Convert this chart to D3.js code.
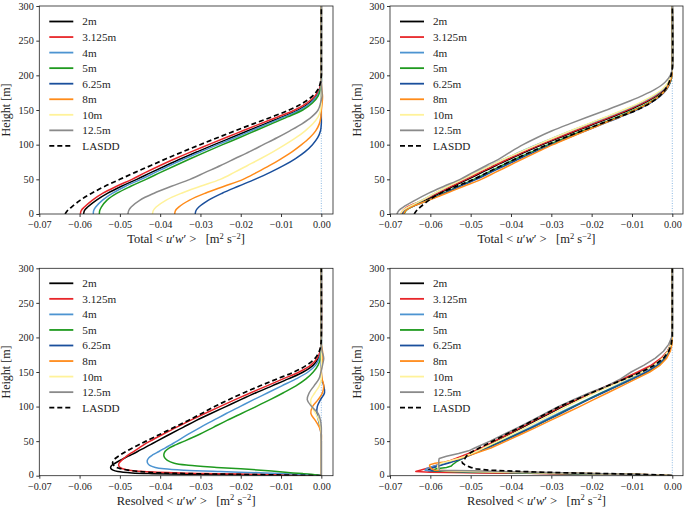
<!DOCTYPE html>
<html><head><meta charset="utf-8">
<script src="https://cdn.jsdelivr.net/npm/d3@7"></script>
<style>body{margin:0;background:#fff}svg{display:block}text{font-family:"Liberation Serif","DejaVu Serif",serif;white-space:pre}</style>
</head><body><svg id="c" width="685" height="508"></svg>
<script>
// ---------- data ----------
const seriesNames = ["2m","3.125m","4m","5m","6.25m","8m","10m","12.5m","LASDD"];
const seriesColors = ["#000000","#e8262a","#4d94d1","#1f9a1f","#1a4f9c","#ff8b1a","#fff29a","#8a8a8a","#000000"];
const xTickVals = [-0.07,-0.06,-0.05,-0.04,-0.03,-0.02,-0.01,0.00];
const yTickVals = [0,50,100,150,200,250,300];

// heights (m) for Total panels
const heightsTotal = [0,5,10,20,30,40,50,60,70,80,90,100,110,120,130,140,150,160,170,180,190,200,210,300];
// Total <u'w'>, left panel
const totalLeft = [
 [-0.0590,-0.0588,-0.0580,-0.0558,-0.0530,-0.0496,-0.0458,-0.0422,-0.0385,-0.0347,-0.0307,-0.0266,-0.0224,-0.0182,-0.0140,-0.0097,-0.0057,-0.0030,-0.0012,-0.0004,-0.0001,0,0,0],
 [-0.0598,-0.0596,-0.0588,-0.0568,-0.0542,-0.0508,-0.0470,-0.0436,-0.0400,-0.0362,-0.0322,-0.0280,-0.0238,-0.0195,-0.0152,-0.0108,-0.0066,-0.0036,-0.0016,-0.0005,-0.0001,0,0,0],
 [-0.0566,-0.0565,-0.0560,-0.0543,-0.0518,-0.0486,-0.0448,-0.0412,-0.0376,-0.0338,-0.0298,-0.0257,-0.0215,-0.0174,-0.0133,-0.0092,-0.0053,-0.0027,-0.0011,-0.0003,0,0,0,0],
 [-0.0551,-0.0550,-0.0546,-0.0532,-0.0507,-0.0473,-0.0435,-0.0399,-0.0362,-0.0324,-0.0285,-0.0245,-0.0204,-0.0164,-0.0124,-0.0084,-0.0046,-0.0022,-0.0008,-0.0002,0,0,0,0],
 [-0.0313,-0.0311,-0.0304,-0.0280,-0.0246,-0.0206,-0.0165,-0.0127,-0.0093,-0.0064,-0.0040,-0.0022,-0.0009,-0.0002,0,0,0,0,0,0,0,0,0,0],
 [-0.0364,-0.0362,-0.0354,-0.0327,-0.0288,-0.0241,-0.0194,-0.0160,-0.0128,-0.0099,-0.0072,-0.0049,-0.0029,-0.0014,-0.0005,-0.0001,0,0.0002,0.0003,0.0001,0,0,0,0],
 [-0.0419,-0.0417,-0.0410,-0.0385,-0.0347,-0.0300,-0.0251,-0.0216,-0.0183,-0.0150,-0.0119,-0.0090,-0.0063,-0.0040,-0.0021,-0.0008,-0.0002,0,0,0,0,0,0,0],
 [-0.0480,-0.0478,-0.0472,-0.0450,-0.0415,-0.0372,-0.0326,-0.0288,-0.0250,-0.0214,-0.0178,-0.0144,-0.0110,-0.0078,-0.0048,-0.0024,-0.0008,-0.0002,0.0002,0.0001,0,0,0,0],
 [-0.0636,-0.0630,-0.0620,-0.0598,-0.0570,-0.0537,-0.0500,-0.0462,-0.0423,-0.0384,-0.0343,-0.0301,-0.0258,-0.0214,-0.0169,-0.0123,-0.0080,-0.0046,-0.0022,-0.0008,-0.0002,0,0,0]
];
// Total <u'w'>, right panel
const totalRight = [
 [-0.0670,-0.0664,-0.0650,-0.0612,-0.0577,-0.0543,-0.0507,-0.0472,-0.0437,-0.0400,-0.0362,-0.0322,-0.0280,-0.0237,-0.0193,-0.0149,-0.0107,-0.0070,-0.0040,-0.0019,-0.0007,-0.0002,0,0],
 [-0.0673,-0.0668,-0.0658,-0.0618,-0.0582,-0.0548,-0.0512,-0.0477,-0.0442,-0.0405,-0.0367,-0.0327,-0.0285,-0.0242,-0.0198,-0.0154,-0.0112,-0.0074,-0.0043,-0.0021,-0.0008,-0.0002,0,0],
 [-0.0668,-0.0664,-0.0652,-0.0620,-0.0588,-0.0556,-0.0520,-0.0486,-0.0451,-0.0414,-0.0376,-0.0336,-0.0294,-0.0251,-0.0207,-0.0162,-0.0119,-0.0080,-0.0047,-0.0023,-0.0009,-0.0002,0,0],
 [-0.0665,-0.0660,-0.0647,-0.0606,-0.0567,-0.0530,-0.0492,-0.0457,-0.0422,-0.0386,-0.0347,-0.0307,-0.0265,-0.0222,-0.0178,-0.0135,-0.0095,-0.0060,-0.0033,-0.0015,-0.0005,-0.0001,0,0],
 [-0.0668,-0.0662,-0.0648,-0.0605,-0.0565,-0.0526,-0.0486,-0.0450,-0.0414,-0.0378,-0.0340,-0.0300,-0.0258,-0.0215,-0.0172,-0.0129,-0.0089,-0.0055,-0.0030,-0.0014,-0.0005,-0.0001,0,0],
 [-0.0666,-0.0661,-0.0648,-0.0603,-0.0560,-0.0517,-0.0474,-0.0439,-0.0404,-0.0369,-0.0333,-0.0296,-0.0256,-0.0215,-0.0173,-0.0131,-0.0092,-0.0058,-0.0032,-0.0015,-0.0006,-0.0001,0,0],
 [-0.0674,-0.0668,-0.0655,-0.0620,-0.0589,-0.0556,-0.0520,-0.0485,-0.0450,-0.0414,-0.0375,-0.0335,-0.0294,-0.0252,-0.0209,-0.0165,-0.0122,-0.0083,-0.0050,-0.0025,-0.0010,-0.0003,0,0],
 [-0.0683,-0.0678,-0.0667,-0.0637,-0.0604,-0.0566,-0.0526,-0.0494,-0.0461,-0.0428,-0.0400,-0.0370,-0.0336,-0.0298,-0.0255,-0.0210,-0.0163,-0.0118,-0.0077,-0.0042,-0.0018,-0.0005,0,0],
 [-0.0640,-0.0634,-0.0625,-0.0603,-0.0575,-0.0535,-0.0493,-0.0458,-0.0423,-0.0387,-0.0349,-0.0310,-0.0268,-0.0224,-0.0179,-0.0133,-0.0088,-0.0055,-0.0032,-0.0017,-0.0008,-0.0003,0,0]
];
// heights (m) for Resolved left panel
const heightsResolvedLeft = [0,1,2,3,4,6,8,10,12,15,18,22,26,30,35,40,45,50,60,70,80,90,100,110,120,130,140,150,160,170,180,190,200,300];
const resolvedLeft = [
 [0,-0.0150,-0.0300,-0.0420,-0.0470,-0.0505,-0.0517,-0.0522,-0.0523,-0.0520,-0.0512,-0.0500,-0.0487,-0.0473,-0.0456,-0.0440,-0.0424,-0.0408,-0.0376,-0.0343,-0.0310,-0.0274,-0.0237,-0.0200,-0.0162,-0.0122,-0.0082,-0.0045,-0.0020,-0.0007,-0.0002,0,0,0],
 [0,-0.0060,-0.0150,-0.0260,-0.0350,-0.0440,-0.0478,-0.0493,-0.0500,-0.0503,-0.0502,-0.0496,-0.0488,-0.0479,-0.0466,-0.0453,-0.0440,-0.0425,-0.0393,-0.0360,-0.0325,-0.0289,-0.0252,-0.0214,-0.0175,-0.0135,-0.0095,-0.0055,-0.0026,-0.0010,-0.0003,-0.0001,0,0],
 [0,-0.0020,-0.0050,-0.0090,-0.0140,-0.0250,-0.0340,-0.0390,-0.0412,-0.0426,-0.0431,-0.0432,-0.0428,-0.0419,-0.0403,-0.0388,-0.0373,-0.0358,-0.0330,-0.0300,-0.0268,-0.0236,-0.0202,-0.0168,-0.0133,-0.0098,-0.0063,-0.0033,-0.0014,-0.0005,-0.0001,0,0,0],
 [0,-0.0010,-0.0025,-0.0045,-0.0070,-0.0110,-0.0150,-0.0200,-0.0260,-0.0330,-0.0365,-0.0382,-0.0389,-0.0391,-0.0388,-0.0378,-0.0360,-0.0340,-0.0302,-0.0268,-0.0234,-0.0198,-0.0162,-0.0127,-0.0094,-0.0063,-0.0038,-0.0020,-0.0008,-0.0002,0,0,0,0],
 [0,0,0,0,0,0,0,0,0,0,0,0,0,0,0,0,0,0,-0.0001,-0.0003,-0.0007,-0.0011,-0.0010,-0.0002,0.0008,0.0006,0.0001,0,0,0,0,0,0,0],
 [0,0,0,0,0,0,0,0,0,0,0,0,0,0,0,0,0,0,0,-0.0005,-0.0015,-0.0026,-0.0022,-0.0008,0.0003,0.0006,0.0002,0,0.0001,0.0004,0.0003,0,0,0],
 [0,0,0,0,0,0,0,0,0,0,0,0,0,0,0,0,0,0,0,-0.0002,-0.0006,-0.0014,-0.0024,-0.0026,-0.0016,-0.0005,0,-0.0001,0.0001,0,0,0,0,0],
 [0,0,0,0,0,0,0,0,0,0,0,0,0,0,0,0,0,0,0,0,-0.0002,-0.0008,-0.0024,-0.0035,-0.0030,-0.0018,-0.0006,-0.0001,0.0003,0.0006,0.0002,0,0,0],
 [0,-0.0100,-0.0220,-0.0330,-0.0400,-0.0450,-0.0480,-0.0497,-0.0508,-0.0515,-0.0518,-0.0516,-0.0509,-0.0499,-0.0485,-0.0469,-0.0452,-0.0435,-0.0400,-0.0365,-0.0330,-0.0297,-0.0265,-0.0230,-0.0192,-0.0152,-0.0110,-0.0068,-0.0036,-0.0015,-0.0005,-0.0001,0,0]
];
// heights (m) for Resolved right panel
const heightsResolvedRight = [0,1,2,3,4,5,6,7,8,10,12,14,16,18,20,22,25,28,32,36,40,50,60,70,80,90,100,110,120,130,140,150,160,170,180,190,200,210,300];
const resolvedRight = [
 [0,-0.0050,-0.0140,-0.0260,-0.0400,-0.0520,-0.0590,-0.0605,-0.0606, -0.0600,-0.0592,-0.0582,-0.0572,-0.0562,-0.0552,-0.0542,-0.0528,-0.0515,-0.0500,-0.0485, -0.0470,-0.0437,-0.0404,-0.0371,-0.0338,-0.0305,-0.0272,-0.0234,-0.0196,-0.0158,-0.0118,-0.0080,-0.0048,-0.0025,-0.0011,-0.0004,-0.0001,0,0],
 [0,-0.0050,-0.0140,-0.0280,-0.0450,-0.0600,-0.0636,-0.0632,-0.0625, -0.0612,-0.0600,-0.0590,-0.0580,-0.0570,-0.0560,-0.0550,-0.0537,-0.0524,-0.0507,-0.0490, -0.0474,-0.0441,-0.0408,-0.0375,-0.0342,-0.0309,-0.0276,-0.0238,-0.0200,-0.0162,-0.0123,-0.0086,-0.0052,-0.0028,-0.0012,-0.0004,-0.0001,0,0],
 [0,-0.0050,-0.0120,-0.0210,-0.0320,-0.0430,-0.0540,-0.0600,-0.0613, -0.0610,-0.0602,-0.0590,-0.0578,-0.0565,-0.0552,-0.0540,-0.0525,-0.0512,-0.0496,-0.0480, -0.0465,-0.0425,-0.0388,-0.0352,-0.0318,-0.0283,-0.0248,-0.0212,-0.0176,-0.0140,-0.0105,-0.0072,-0.0044,-0.0023,-0.0010,-0.0003,-0.0001,0,0],
 [0,-0.0050,-0.0130,-0.0230,-0.0350,-0.0460,-0.0550,-0.0590,-0.0595, -0.0585,-0.0560,-0.0548,-0.0545,-0.0540,-0.0536,-0.0530,-0.0520,-0.0510,-0.0494,-0.0478, -0.0462,-0.0422,-0.0384,-0.0347,-0.0312,-0.0278,-0.0245,-0.0210,-0.0174,-0.0136,-0.0098,-0.0062,-0.0035,-0.0017,-0.0007,-0.0002,0,0,0],
 [0,-0.0040,-0.0110,-0.0200,-0.0310,-0.0420,-0.0520,-0.0580,-0.0598, -0.0600,-0.0592,-0.0580,-0.0568,-0.0556,-0.0545,-0.0535,-0.0520,-0.0508,-0.0492,-0.0475, -0.0458,-0.0420,-0.0383,-0.0347,-0.0312,-0.0277,-0.0243,-0.0208,-0.0172,-0.0135,-0.0098,-0.0064,-0.0037,-0.0018,-0.0007,-0.0002,0,0,0],
 [0,-0.0030,-0.0090,-0.0170,-0.0270,-0.0380,-0.0480,-0.0560,-0.0590, -0.0597,-0.0600,-0.0602,-0.0601,-0.0588,-0.0565,-0.0548,-0.0528,-0.0510,-0.0490,-0.0470, -0.0450,-0.0412,-0.0375,-0.0338,-0.0302,-0.0266,-0.0230,-0.0195,-0.0160,-0.0125,-0.0090,-0.0056,-0.0030,-0.0014,-0.0005,-0.0001,0,0,0],
 [0,-0.0040,-0.0100,-0.0180,-0.0290,-0.0400,-0.0500,-0.0560,-0.0575, -0.0580,-0.0582,-0.0582,-0.0580,-0.0572,-0.0560,-0.0548,-0.0530,-0.0515,-0.0498,-0.0482, -0.0468,-0.0432,-0.0397,-0.0362,-0.0328,-0.0294,-0.0262,-0.0228,-0.0192,-0.0152,-0.0112,-0.0075,-0.0045,-0.0024,-0.0011,-0.0004,-0.0001,0,0],
 [0,-0.0040,-0.0100,-0.0170,-0.0250,-0.0330,-0.0420,-0.0500,-0.0578, -0.0578,-0.0579,-0.0579,-0.0579,-0.0579,-0.0579,-0.0579,-0.0578,-0.0560,-0.0530,-0.0505, -0.0490,-0.0452,-0.0417,-0.0382,-0.0348,-0.0315,-0.0283,-0.0245,-0.0205,-0.0162,-0.0128,-0.0102,-0.0070,-0.0042,-0.0022,-0.0009,-0.0002,0,0],
 [0,-0.0020,-0.0080,-0.0160,-0.0250,-0.0320,-0.0365,-0.0410,-0.0455, -0.0487,-0.0500,-0.0508,-0.0515,-0.0520,-0.0521,-0.0518,-0.0514,-0.0511,-0.0504,-0.0492, -0.0479,-0.0445,-0.0412,-0.0378,-0.0345,-0.0312,-0.0280,-0.0240,-0.0200,-0.0160,-0.0118,-0.0076,-0.0044,-0.0022,-0.0009,-0.0003,0,0,0]
];

// ---------- layout ----------
const panels = [
 {l:39.3, r:333, t:6,     b:214,   xmax:0.0029,  heights:heightsTotal,         vals:totalLeft,     label:"Total",    legendY:21.5, smooth:true},
 {l:390,  r:683, t:6,     b:214,   xmax:0.00265, heights:heightsTotal,         vals:totalRight,    label:"Total",    legendY:21.5, smooth:true},
 {l:39.3, r:333, t:268.3, b:475.7, xmax:0.0029,  heights:heightsResolvedLeft,  vals:resolvedLeft,  label:"Resolved", legendY:283.3, smooth:true},
 {l:390,  r:683, t:268.3, b:475.7, xmax:0.00265, heights:heightsResolvedRight, vals:resolvedRight, label:"Resolved", legendY:283.3, smooth:false}
];

const svg = d3.select("#c");
svg.append("rect").attr("width",685).attr("height",508).attr("fill","#fff");
const fmtX = d => (d < 0 ? "\u2212" : "") + Math.abs(d).toFixed(2);
const FONT = '"Liberation Serif", "DejaVu Serif", serif';

panels.forEach((p, pi) => {
  const x = d3.scaleLinear().domain([-0.07, p.xmax]).range([p.l, p.r]);
  const y = d3.scaleLinear().domain([0, 300]).range([p.b, p.t]);
  const g = svg.append("g");
  const cid = "clip" + pi;
  g.append("clipPath").attr("id", cid).append("rect")
    .attr("x", p.l).attr("y", p.t).attr("width", p.r - p.l).attr("height", p.b - p.t);

  // zero reference line
  g.append("line").attr("x1", x(0)).attr("x2", x(0)).attr("y1", y(0)).attr("y2", y(300))
    .attr("stroke", "#5b9bd5").attr("stroke-width", 0.7).attr("stroke-dasharray", "1,1.5");

  const line = d3.line().x(d => x(d[1])).y(d => y(d[0]))
    .curve(p.smooth ? d3.curveCatmullRom.alpha(0.5) : d3.curveLinear);
  const plot = g.append("g").attr("clip-path", `url(#${cid})`);
  p.vals.forEach((vals, si) => {
    const pts = p.heights.map((h, i) => [h, vals[i]]);
    plot.append("path").attr("d", line(pts)).attr("fill", "none")
      .attr("stroke", seriesColors[si]).attr("stroke-width", si === 8 ? 1.7 : 1.5)
      .attr("stroke-dasharray", si === 8 ? "5,3" : null)
      .attr("stroke-linejoin", "round");
  });

  // axes
  const ax = g.append("g").attr("transform", `translate(0,${p.b})`)
    .call(d3.axisBottom(x).tickValues(xTickVals).tickFormat(fmtX).tickSize(3).tickSizeOuter(0).tickPadding(4));
  const ay = g.append("g").attr("transform", `translate(${p.l},0)`)
    .call(d3.axisLeft(y).tickValues(yTickVals).tickSize(3).tickSizeOuter(0).tickPadding(2.5));
  [ax, ay].forEach(a => {
    a.attr("font-family", FONT);
    a.select(".domain").remove();
    a.selectAll("line").attr("stroke", "#000").attr("stroke-width", 0.8);
    a.selectAll("text").attr("font-family", FONT).attr("font-size", 10.2).attr("fill", "#222");
  });
  // nudge the bottom y tick label up slightly so it clears the first x tick label
  ay.selectAll(".tick").filter(d => d === 0).select("text").attr("y", -1.2);
  g.append("rect").attr("x", p.l).attr("y", p.t).attr("width", p.r - p.l).attr("height", p.b - p.t)
    .attr("fill", "none").attr("stroke", "#222").attr("stroke-width", 0.8);

  // x label
  const xl = g.append("text").attr("x", (p.l + p.r) / 2).attr("y", p.b + 29)
    .attr("text-anchor", "middle").attr("font-size", 12.5).attr("fill", "#222");
  xl.append("tspan").text(p.label + " < ");
  xl.append("tspan").attr("font-style", "italic").text("u");
  xl.append("tspan").text("\u2032");
  xl.append("tspan").attr("font-style", "italic").text("w");
  xl.append("tspan").text("\u2032 >   [m");
  xl.append("tspan").attr("dy", -4.5).attr("font-size", 8.5).text("2");
  xl.append("tspan").attr("dy", 4.5).text(" s");
  xl.append("tspan").attr("dy", -4.5).attr("font-size", 8.5).text("\u22122");
  xl.append("tspan").attr("dy", 4.5).text("]");

  // y label
  const ylx = pi % 2 === 0 ? 6 : 357;
  g.append("text").attr("transform", `translate(${ylx},${(p.t + p.b) / 2}) rotate(-90)`)
    .attr("text-anchor", "middle").attr("dy", "0.35em").attr("font-size", 12).attr("fill", "#222")
    .text("Height [m]");

  // legend
  const lx0 = p.l + 10;
  seriesNames.forEach((nm, si) => {
    const ly = p.legendY + si * 15.55;
    g.append("line").attr("x1", lx0).attr("x2", lx0 + 24).attr("y1", ly).attr("y2", ly)
      .attr("stroke", seriesColors[si]).attr("stroke-width", 1.8)
      .attr("stroke-dasharray", si === 8 ? "5,3" : null);
    g.append("text").attr("x", lx0 + 33).attr("y", ly).attr("dy", "0.35em")
      .attr("font-size", 11.2).attr("fill", "#222").text(nm);
  });
});
</script></body></html>
